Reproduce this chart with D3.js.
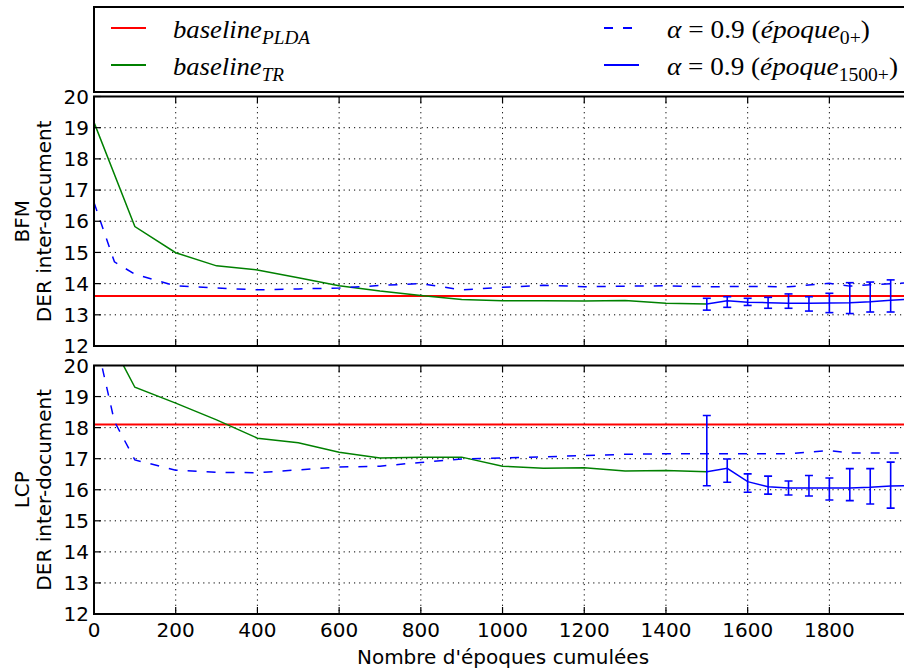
<!DOCTYPE html>
<html><head><meta charset="utf-8">
<script src="https://cdn.jsdelivr.net/npm/d3@7"></script>
<style>
body{margin:0;background:#fff;}
svg{display:block;}
text.sans{font-family:"DejaVu Sans",sans-serif;}
text.serif{font-family:"Liberation Serif","Times New Roman",serif;}
</style></head>
<body>
<script>
// ---------- data ----------
const xTicks = [0,200,400,600,800,1000,1200,1400,1600,1800];
const yTicks = [12,13,14,15,16,17,18,19,20];
const panelNames = ["BFM","LCP"];
const yLabel = "DER inter-document";
const xLabel = "Nombre d'époques cumulées";

// baseline_PLDA (constant)
const pldaBFM = 13.6;
const pldaLCP = 18.1;

// baseline_TR
const xTR = [0,100,200,300,400,500,600,700,800,900,1000,1100,1200,1300,1400,1500];
const trBFM = [19.17,15.83,14.99,14.57,14.44,14.19,13.93,13.76,13.62,13.49,13.45,13.45,13.44,13.46,13.37,13.35];
const trLCP = [21.8,19.30,18.79,18.25,17.66,17.51,17.21,17.02,17.05,17.05,16.76,16.69,16.71,16.60,16.62,16.58];

// alpha = 0.9 (epoque 0+), dashed
const xDash = [0,50,100,200,300,400,500,600,700,800,900,1000,1100,1200,1300,1400,1500,1600,1700,1800,1850,1900,1950,2000];
const dashBFM = [16.6,14.7,14.3,13.93,13.86,13.80,13.83,13.86,13.94,14.0,13.80,13.88,13.95,13.90,13.92,13.93,13.90,13.91,13.90,14.01,13.92,13.96,14.0,14.03];
const dashLCP = [21.1,18.2,16.96,16.63,16.56,16.55,16.64,16.73,16.76,16.88,16.99,17.02,17.06,17.10,17.14,17.16,17.16,17.16,17.16,17.26,17.18,17.18,17.18,17.18];

// alpha = 0.9 (epoque 1500+), solid with error bars
const xErr = [1500,1550,1600,1650,1700,1750,1800,1850,1900,1950,2000];
const errBFM = [13.35,13.45,13.40,13.39,13.37,13.37,13.38,13.39,13.42,13.47,13.50];
const errBFMhi = [13.53,13.58,13.53,13.56,13.67,13.58,13.69,14.03,14.05,14.12];
const errBFMlo = [13.15,13.24,13.30,13.21,13.21,13.12,13.07,13.04,13.09,13.09];
const errLCP = [16.58,16.69,16.26,16.10,16.06,16.06,16.06,16.06,16.08,16.12,16.13];
const errLCPhi = [18.39,16.99,16.51,16.44,16.28,16.46,16.38,16.68,16.68,16.89];
const errLCPlo = [16.13,16.24,15.92,15.86,15.83,15.80,15.67,15.65,15.54,15.41];

// ---------- drawing ----------
const W = 904, H = 671;
const svg = d3.select("body").append("svg").attr("width", W).attr("height", H);

const left = 94, right = 907;
const x = d3.scaleLinear().domain([0, 1990]).range([left, right]);

const panels = [
  {name: panelNames[0], top: 96.5, bottom: 346, plda: pldaBFM, tr: trBFM, dash: dashBFM, err: errBFM, hi: errBFMhi, lo: errBFMlo, xlabels: false},
  {name: panelNames[1], top: 365.5, bottom: 614, plda: pldaLCP, tr: trLCP, dash: dashLCP, err: errLCP, hi: errLCPhi, lo: errLCPlo, xlabels: true}
];

const RED = "#ff0000", GREEN = "#008000", BLUE = "#0000ff";

panels.forEach((p, i) => {
  const y = d3.scaleLinear().domain([12, 20]).range([p.bottom, p.top]);
  const g = svg.append("g");
  const clipId = "clip" + i;
  svg.append("clipPath").attr("id", clipId).append("rect")
    .attr("x", left).attr("y", p.top).attr("width", right - left).attr("height", p.bottom - p.top);

  // grid
  const grid = g.append("g").attr("stroke", "#000").attr("stroke-width", 1).attr("stroke-dasharray", "1.2,4");
  xTicks.slice(1).forEach(t => grid.append("line").attr("x1", x(t)).attr("x2", x(t)).attr("y1", p.top).attr("y2", p.bottom));
  yTicks.slice(1, -1).forEach(t => grid.append("line").attr("x1", left).attr("x2", right).attr("y1", y(t)).attr("y2", y(t)));

  const data = g.append("g").attr("clip-path", `url(#${clipId})`);
  const line = d3.line().x(d => x(d[0])).y(d => y(d[1]));

  // baseline PLDA
  data.append("line").attr("x1", left).attr("x2", right).attr("y1", y(p.plda)).attr("y2", y(p.plda))
    .attr("stroke", RED).attr("stroke-width", 2);
  // baseline TR
  data.append("path").attr("d", line(xTR.map((v, k) => [v, p.tr[k]])))
    .attr("fill", "none").attr("stroke", GREEN).attr("stroke-width", 1.5);
  // dashed
  data.append("path").attr("d", line(xDash.map((v, k) => [v, p.dash[k]])))
    .attr("fill", "none").attr("stroke", BLUE).attr("stroke-width", 1.5).attr("stroke-dasharray", "9,10");
  // solid with error bars
  data.append("path").attr("d", line(xErr.map((v, k) => [v, p.err[k]])))
    .attr("fill", "none").attr("stroke", BLUE).attr("stroke-width", 1.5);
  const eb = data.append("g").attr("stroke", BLUE).attr("stroke-width", 1.6);
  p.hi.forEach((h, k) => {
    const cx = x(xErr[k]);
    eb.append("line").attr("x1", cx).attr("x2", cx).attr("y1", y(h)).attr("y2", y(p.lo[k]));
    eb.append("line").attr("x1", cx - 4).attr("x2", cx + 4).attr("y1", y(h)).attr("y2", y(h));
    eb.append("line").attr("x1", cx - 4).attr("x2", cx + 4).attr("y1", y(p.lo[k])).attr("y2", y(p.lo[k]));
  });

  // ticks (inward, all sides)
  const tk = g.append("g").attr("stroke", "#000").attr("stroke-width", 1.2);
  xTicks.forEach(t => {
    tk.append("line").attr("x1", x(t)).attr("x2", x(t)).attr("y1", p.bottom).attr("y2", p.bottom - 7);
    tk.append("line").attr("x1", x(t)).attr("x2", x(t)).attr("y1", p.top).attr("y2", p.top + 7);
  });
  yTicks.forEach(t => {
    tk.append("line").attr("x1", left).attr("x2", left + 7).attr("y1", y(t)).attr("y2", y(t));
  });

  // frame
  g.append("rect").attr("x", left).attr("y", p.top).attr("width", right - left).attr("height", p.bottom - p.top)
    .attr("fill", "none").attr("stroke", "#000").attr("stroke-width", 2);

  // y tick labels
  yTicks.forEach(t => {
    g.append("text").attr("class", "sans").attr("x", left - 5).attr("y", y(t)).attr("dy", "0.36em")
      .attr("text-anchor", "end").attr("font-size", 20).text(t);
  });
  // x tick labels
  if (p.xlabels) {
    xTicks.forEach(t => {
      g.append("text").attr("class", "sans").attr("x", x(t)).attr("y", p.bottom + 23)
        .attr("text-anchor", "middle").attr("font-size", 20).text(t);
    });
  }
  // y axis label (two lines)
  const cy = (p.top + p.bottom) / 2;
  g.append("text").attr("class", "sans").attr("transform", `translate(28.5,${cy}) rotate(-90)`)
    .attr("text-anchor", "middle").attr("font-size", 20).text(p.name);
  g.append("text").attr("class", "sans").attr("transform", `translate(50.5,${cy}) rotate(-90)`)
    .attr("text-anchor", "middle").attr("font-size", 20).text(yLabel);
});

// x axis label
svg.append("text").attr("class", "sans").attr("x", 503).attr("y", 664).attr("text-anchor", "middle").attr("font-size", 20).text(xLabel);

// ---------- legend ----------
const lg = svg.append("g");
lg.append("rect").attr("x", 94).attr("y", 7).attr("width", 820).attr("height", 85)
  .attr("fill", "#fff").attr("stroke", "#000").attr("stroke-width", 2);

const legendItems = [
  {col: 0, row: 0, color: RED, dash: null, main: "baseline", sub: "PLDA", tl: 137},
  {col: 0, row: 1, color: GREEN, dash: null, main: "baseline", sub: "TR", tl: 111},
  {col: 1, row: 0, color: BLUE, dash: "9,10", alpha: true, sub: "0+", tl: 203},
  {col: 1, row: 1, color: BLUE, dash: null, alpha: true, sub: "1500+", tl: 231}
];
const rowY = [28, 65];
const colLine = [111, 604];
const colText = [173, 667];
legendItems.forEach(it => {
  const ly = rowY[it.row];
  lg.append("line").attr("x1", colLine[it.col]).attr("x2", colLine[it.col] + 35).attr("y1", ly).attr("y2", ly)
    .attr("stroke", it.color).attr("stroke-width", 2).attr("stroke-dasharray", it.dash);
  const t = lg.append("text").attr("class", "serif").attr("x", colText[it.col]).attr("y", ly + 10)
    .attr("font-size", 25)
    .attr("textLength", it.tl).attr("lengthAdjust", "spacingAndGlyphs");
  if (!it.alpha) {
    t.append("tspan").attr("font-style", "italic").text(it.main);
    t.append("tspan").attr("font-style", "italic").attr("font-size", 18).attr("dy", 6).text(it.sub);
  } else {
    t.append("tspan").attr("font-style", "italic").text("α");
    t.append("tspan").text(" = 0.9 (");
    t.append("tspan").attr("font-style", "italic").text("époque");
    t.append("tspan").attr("font-size", 18).attr("dy", 6).text(it.sub);
    t.append("tspan").attr("dy", -6).text(")");
  }
});
</script>
</body></html>
